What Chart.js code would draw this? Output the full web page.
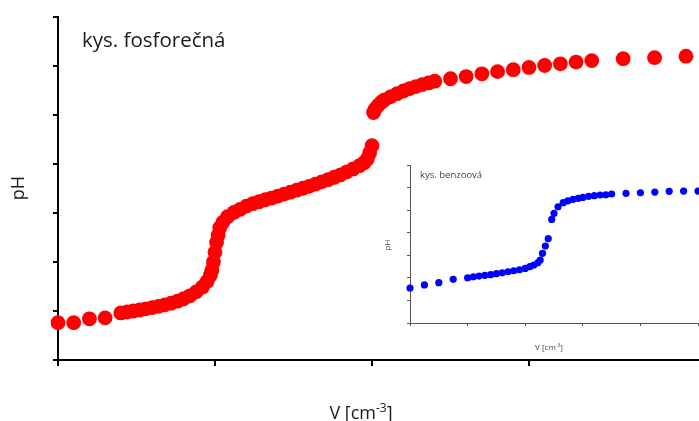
<!DOCTYPE html>
<html>
<head>
<meta charset="utf-8">
<script src="https://cdn.jsdelivr.net/npm/chart.js@4/dist/chart.umd.min.js"></script>
<style>
  html, body { margin: 0; padding: 0; background: #fff; }
  #wrap { position: relative; width: 699px; height: 421px; overflow: hidden; }
  #mainChart { position: absolute; left: 0; top: 0; }
  #insetChart { position: absolute; left: 380px; top: 150px; }
</style>
</head>
<body>
<div id="wrap">
  <canvas id="mainChart" width="699" height="421"></canvas>
  <canvas id="insetChart" width="319" height="220"></canvas>
</div>
<script>
// kys. fosforečná - objem [cm3] a pH
const phosVolume = [0, 1, 2, 3, 4.0, 4.4, 4.8, 5.2, 5.6, 6.0, 6.4, 6.8, 7.2, 7.6, 8.0, 8.4, 8.8, 9.2, 9.5, 9.7, 9.8, 9.9, 10.0, 10.1, 10.2, 10.3,
  10.5, 10.8, 11.2, 11.6, 12.0, 12.4, 12.8, 13.2, 13.6, 14.0, 14.4, 14.8, 15.2, 15.6, 16.0, 16.4, 16.8, 17.2, 17.6, 18.0, 18.4, 18.8, 19.2, 19.5, 19.7, 19.85, 20.0,
  20.1, 20.2, 20.4, 20.6, 20.8, 21.2, 21.6, 22.0, 22.4, 22.8, 23.2, 23.6, 24.0, 25, 26, 27, 28, 29, 30, 31, 32, 33, 34, 36, 38, 40];
const phosPH = [1.52, 1.52, 1.68, 1.72, 1.92, 1.96, 2.00, 2.04, 2.09, 2.14, 2.19, 2.25, 2.32, 2.40, 2.50, 2.62, 2.78, 2.98, 3.20, 3.45, 3.65, 4.00, 4.40, 4.80, 5.10, 5.40,
  5.62, 5.85, 6.02, 6.15, 6.28, 6.38, 6.46, 6.54, 6.61, 6.69, 6.77, 6.85, 6.93, 7.01, 7.09, 7.18, 7.27, 7.36, 7.46, 7.56, 7.68, 7.80, 7.93, 8.05, 8.20, 8.45, 8.75,
  10.10, 10.25, 10.40, 10.52, 10.62, 10.75, 10.87, 10.98, 11.08, 11.16, 11.24, 11.31, 11.38, 11.48, 11.57, 11.68, 11.77, 11.85, 11.94, 12.02, 12.09, 12.16, 12.22, 12.30, 12.34, 12.40];

// kys. benzoová
const benzVolume = [0, 2.5, 5, 7.5, 10, 11, 12, 13, 14, 15, 16, 17, 18, 19, 20, 20.8, 21.5, 22.2, 22.6, 23, 23.5, 24, 24.6, 25, 25.7, 26.6, 27.4, 28.3, 29.2, 30,
  31, 32, 33, 34, 35, 37.5, 40, 42.5, 45, 47.5, 50];
const benzPH = [3.10, 3.37, 3.57, 3.87, 4.01, 4.10, 4.16, 4.22, 4.28, 4.37, 4.45, 4.54, 4.63, 4.72, 4.84, 4.99, 5.14, 5.34, 5.58, 6.17, 6.82, 7.47, 9.18, 9.72, 10.30, 10.66, 10.83, 10.96, 11.05, 11.13,
  11.22, 11.28, 11.34, 11.36, 11.43, 11.49, 11.54, 11.60, 11.67, 11.69, 11.69];

const mainTitle = 'kys. fosforečná';
const insetTitle = 'kys. benzoová';
const yTitle = 'pH';
const xTitle = 'V [cm';
const xTitleSup = '-3';

const FONT = "'Open Sans', 'Liberation Sans', sans-serif";

function toPoints(xs, ys) {
  return xs.map((v, i) => ({ x: v, y: ys[i] }));
}

// popisky (nazev, osy) kreslene primo na canvas
function drawLabels(c, o) {
  c.save();
  c.fillStyle = o.color;
  c.textBaseline = 'middle';
  c.textAlign = 'left';
  c.font = o.titleSize + 'px ' + FONT;
  c.fillText(o.title, o.titleX, o.titleY);

  c.save();
  c.translate(o.yX, o.yY);
  c.rotate(-Math.PI / 2);
  c.textAlign = 'center';
  c.font = o.axisSize + 'px ' + FONT;
  c.fillText(yTitle, 0, 0);
  c.restore();

  c.textBaseline = 'alphabetic';
  c.font = o.axisSize + 'px ' + FONT;
  var w1 = c.measureText(xTitle).width;
  var supSize = Math.round(o.axisSize * 0.65);
  c.font = supSize + 'px ' + FONT;
  var w2 = c.measureText(xTitleSup).width;
  c.font = o.axisSize + 'px ' + FONT;
  var w3 = c.measureText(']').width;
  var x0 = o.xX - (w1 + w2 + w3) / 2;
  c.fillText(xTitle, x0, o.xY);
  c.font = supSize + 'px ' + FONT;
  c.fillText(xTitleSup, x0 + w1, o.xY - o.axisSize * 0.4);
  c.font = o.axisSize + 'px ' + FONT;
  c.fillText(']', x0 + w1 + w2, o.xY);
  c.restore();
}

function onlySteps(step) {
  return function (scale) {
    scale.ticks = scale.ticks.filter(t => Math.abs(t.value / step - Math.round(t.value / step)) < 1e-6);
  };
}

var ctx = document.getElementById('mainChart').getContext('2d');
var mainChart = new Chart(ctx, {
  type: 'scatter',
  data: {
    datasets: [{
      data: toPoints(phosVolume, phosPH),
      backgroundColor: '#ff0000',
      borderWidth: 0,
      pointRadius: 7.4,
      pointHoverRadius: 7.4,
      clip: false
    }]
  },
  options: {
    responsive: false,
    animation: false,
    layout: { autoPadding: false, padding: { top: 17, right: 0, left: 0, bottom: 0 } },
    plugins: { legend: { display: false }, tooltip: { enabled: false } },
    scales: {
      x: {
        type: 'linear',
        min: 0,
        max: 40.83,
        ticks: { display: false, stepSize: 10 },
        afterBuildTicks: onlySteps(10),
        afterFit: s => { s.height = 61; },
        grid: { drawOnChartArea: false, tickLength: 6, color: '#000', lineWidth: 2 },
        border: { color: '#000', width: 2 }
      },
      y: {
        min: 0,
        max: 14,
        ticks: { display: false, stepSize: 2 },
        afterFit: s => { s.width = 58; },
        grid: { drawOnChartArea: false, tickLength: 5, color: '#000', lineWidth: 2 },
        border: { color: '#000', width: 2 }
      }
    }
  },
  plugins: [{
    id: 'mainLabels',
    afterDraw: chart => drawLabels(chart.ctx, {
      color: '#1a1a1a', title: mainTitle, titleSize: 20.5, titleX: 82, titleY: 41,
      axisSize: 18, yX: 19, yY: 188, xX: 361, xY: 419
    })
  }]
});

var ctx2 = document.getElementById('insetChart').getContext('2d');
var insetChart = new Chart(ctx2, {
  type: 'scatter',
  data: {
    datasets: [{
      data: toPoints(benzVolume, benzPH),
      backgroundColor: '#0000ff',
      borderWidth: 0,
      pointRadius: 3.6,
      pointHoverRadius: 3.6,
      clip: false
    }]
  },
  options: {
    responsive: false,
    animation: false,
    layout: { autoPadding: false, padding: { top: 15, right: 1, left: 0, bottom: 0 } },
    plugins: { legend: { display: false }, tooltip: { enabled: false } },
    scales: {
      x: {
        type: 'linear',
        min: 0,
        max: 50,
        ticks: { display: false, stepSize: 10 },
        afterFit: s => { s.height = 47; },
        grid: { drawOnChartArea: false, tickLength: 3, color: '#555', lineWidth: 1 },
        border: { color: '#555', width: 1 }
      },
      y: {
        min: 0,
        max: 14,
        ticks: { display: false, stepSize: 2 },
        afterFit: s => { s.width = 30; },
        grid: { drawOnChartArea: false, tickLength: 3, color: '#555', lineWidth: 1 },
        border: { color: '#555', width: 1 }
      }
    }
  },
  plugins: [{
    id: 'insetLabels',
    afterDraw: chart => drawLabels(chart.ctx, {
      color: '#444', title: insetTitle, titleSize: 9.5, titleX: 40, titleY: 25,
      axisSize: 8, yX: 8, yY: 95, xX: 169, xY: 200
    })
  }]
});
</script>
</body>
</html>
